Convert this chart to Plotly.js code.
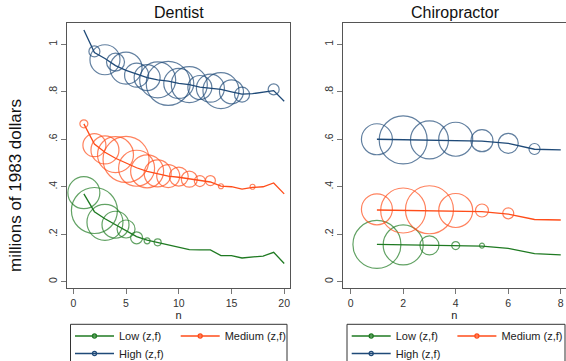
<!DOCTYPE html>
<html>
<head>
<meta charset="utf-8">
<script src="https://cdn.plot.ly/plotly-3.0.1.min.js"></script>
<style>html,body{margin:0;padding:0;background:#fff;}#chart{width:566px;height:361px;}</style>
</head>
<body>
<div id="chart"></div>
<script>
// ---- Data ----
const seriesNames = ['Low (z,f)', 'Medium (z,f)', 'High (z,f)'];
const panelTitles = ['Dentist', 'Chiropractor'];
const yTickVals = [0, 0.2, 0.4, 0.6, 0.8, 1];
const yTickText = ['0', '.2', '.4', '.6', '.8', '1'];
const dentXTicks = [0, 5, 10, 15, 20];
const chiroXTicks = [0, 2, 4, 6, 8];

// Dentist: fitted lines, n = 1..20
const dentN = [1,2,3,4,5,6,7,8,9,10,11,12,13,14,15,16,17,18,19,20];
const dentLowLine  = [0.37,0.295,0.265,0.24,0.215,0.19,0.175,0.165,0.155,0.147,0.135,0.134,0.134,0.11,0.11,0.10,0.105,0.108,0.124,0.077];
const dentMedLine  = [0.665,0.58,0.545,0.52,0.50,0.48,0.465,0.455,0.445,0.44,0.433,0.425,0.42,0.403,0.40,0.39,0.397,0.40,0.416,0.37];
const dentHighLine = [1.06,0.965,0.94,0.91,0.89,0.875,0.86,0.85,0.845,0.835,0.83,0.82,0.815,0.81,0.80,0.79,0.792,0.797,0.805,0.76];

// Dentist: observed points (bubble size = frequency weight)
const dentLowN   = [1,2,3,4,5,6,7,8];
const dentLowY   = [0.375,0.30,0.25,0.24,0.222,0.185,0.172,0.166];
const dentLowW   = [32,46,36,27,18,12,6,7];
const dentMedN   = [1,2,3,4,5,6,7,8,9,10,11,12,13,14,17];
const dentMedY   = [0.665,0.575,0.555,0.535,0.515,0.478,0.465,0.456,0.445,0.443,0.432,0.424,0.426,0.402,0.40];
const dentMedW   = [8,23,28,36,46,36,33,27,23,19,16,11,10,5,5];
const dentHighN  = [2,3,4,5,6,7,8,9,10,11,12,13,14,15,16,19];
const dentHighY  = [0.97,0.935,0.925,0.90,0.87,0.86,0.85,0.835,0.835,0.83,0.818,0.815,0.805,0.80,0.788,0.81];
const dentHighW  = [11,30,18,32,24,26,36,44,30,36,24,28,36,24,15,11];

// Chiropractor: fitted lines, n = 1..8
const chiroN = [1,2,3,4,5,6,7,8];
const chiroLowLine  = [0.157,0.155,0.153,0.152,0.150,0.14,0.118,0.113];
const chiroMedLine  = [0.302,0.30,0.298,0.296,0.295,0.285,0.262,0.26];
const chiroHighLine = [0.60,0.598,0.596,0.594,0.592,0.583,0.558,0.555];

// Chiropractor: observed points
const chiroLowN  = [1,2,3,4,5];
const chiroLowY  = [0.157,0.155,0.153,0.152,0.152];
const chiroLowW  = [48,40,19,8,5];
const chiroMedN  = [1,2,3,4,5,6];
const chiroMedY  = [0.305,0.30,0.303,0.30,0.30,0.288];
const chiroMedW  = [31,45,48,34,13,11];
const chiroHighN = [1,2,3,4,5,6,7];
const chiroHighY = [0.60,0.597,0.597,0.60,0.594,0.583,0.559];
const chiroHighW = [31,48,38,34,22,20,11];

// ---- Styling ----
const colors = ['#1f7a22', '#ff4d1a', '#1f4a78'];
const FONT = 'Liberation Sans, Arial, Helvetica, sans-serif';

function lineTrace(x, y, c, xa, ya) {
  return {x: x, y: y, xaxis: xa, yaxis: ya, mode: 'lines', type: 'scatter',
    line: {color: c, width: 1.3}, showlegend: false, hoverinfo: 'skip'};
}
function bubbleTrace(x, y, w, c, xa, ya) {
  return {x: x, y: y, xaxis: xa, yaxis: ya, mode: 'markers', type: 'scatter',
    marker: {symbol: 'circle-open', size: w, color: c, line: {width: 1.2, color: c}},
    showlegend: false, hoverinfo: 'skip'};
}
function legendTrace(name, c, legend, xa, ya) {
  return {x: [null], y: [null], xaxis: xa, yaxis: ya, name: name, mode: 'lines+markers', type: 'scatter',
    line: {color: c, width: 1.5}, marker: {symbol: 'circle-open', size: 4, color: c, line: {width: 1.3, color: c}},
    legend: legend, showlegend: true};
}

const traces = [
  lineTrace(dentN, dentLowLine, colors[0], 'x', 'y'),
  lineTrace(dentN, dentMedLine, colors[1], 'x', 'y'),
  lineTrace(dentN, dentHighLine, colors[2], 'x', 'y'),
  bubbleTrace(dentLowN, dentLowY, dentLowW, colors[0], 'x', 'y'),
  bubbleTrace(dentMedN, dentMedY, dentMedW, colors[1], 'x', 'y'),
  bubbleTrace(dentHighN, dentHighY, dentHighW, colors[2], 'x', 'y'),
  lineTrace(chiroN, chiroLowLine, colors[0], 'x2', 'y2'),
  lineTrace(chiroN, chiroMedLine, colors[1], 'x2', 'y2'),
  lineTrace(chiroN, chiroHighLine, colors[2], 'x2', 'y2'),
  bubbleTrace(chiroLowN, chiroLowY, chiroLowW, colors[0], 'x2', 'y2'),
  bubbleTrace(chiroMedN, chiroMedY, chiroMedW, colors[1], 'x2', 'y2'),
  bubbleTrace(chiroHighN, chiroHighY, chiroHighW, colors[2], 'x2', 'y2'),
  legendTrace(seriesNames[0], colors[0], 'legend', 'x', 'y'),
  legendTrace(seriesNames[1], colors[1], 'legend2', 'x', 'y'),
  legendTrace(seriesNames[2], colors[2], 'legend3', 'x', 'y'),
  legendTrace(seriesNames[0], colors[0], 'legend4', 'x2', 'y2'),
  legendTrace(seriesNames[1], colors[1], 'legend5', 'x2', 'y2'),
  legendTrace(seriesNames[2], colors[2], 'legend6', 'x2', 'y2')
];

const W = 566, H = 361;
const px = v => v / W;
const py = v => 1 - v / H;

const axisCommon = {
  showgrid: false, zeroline: false, showline: true, mirror: true, automargin: false,
  linecolor: '#555', linewidth: 1, ticks: 'outside', ticklen: 5, tickcolor: '#777', tickwidth: 1,
  tickfont: {family: FONT, size: 10.5, color: '#333'}, fixedrange: true
};
const yDomain = [py(288), py(23)];
const yRange = [-0.0265, 1.0897];

function legendBox(x, y) {
  return {x: x, y: y, xref: 'paper', yref: 'paper', xanchor: 'left', yanchor: 'top',
    orientation: 'h', bgcolor: 'rgba(0,0,0,0)', borderwidth: 0, itemwidth: 39,
    tracegroupgap: 0, font: {family: FONT, size: 11, color: '#222'}};
}

const layout = {
  width: W, height: H, autosize: false,
  margin: {l: 0, r: 0, t: 0, b: 0, pad: 0, autoexpand: false},
  paper_bgcolor: '#fff', plot_bgcolor: '#fff',
  font: {family: FONT, color: '#222'},
  xaxis: Object.assign({}, axisCommon, {domain: [px(67), px(290)], range: [-0.6, 20.55],
    tickvals: dentXTicks, anchor: 'y',
    title: {text: 'n', font: {family: FONT, size: 11, color: '#222'}, standoff: 3}}),
  yaxis: Object.assign({}, axisCommon, {domain: yDomain, range: yRange, anchor: 'x',
    tickvals: yTickVals, ticktext: yTickText, tickangle: -90}),
  xaxis2: Object.assign({}, axisCommon, {domain: [px(343.3), px(565.5)], range: [-0.28, 8.18],
    tickvals: chiroXTicks, anchor: 'y2',
    title: {text: 'n', font: {family: FONT, size: 11, color: '#222'}, standoff: 3}}),
  yaxis2: Object.assign({}, axisCommon, {domain: yDomain, range: yRange, anchor: 'x2',
    tickvals: yTickVals, ticktext: yTickText, tickangle: -90}),
  legend: legendBox(px(70), py(321.5)),
  legend2: legendBox(px(175.7), py(321.5)),
  legend3: legendBox(px(70), py(339)),
  legend4: legendBox(px(346.7), py(321.5)),
  legend5: legendBox(px(452.4), py(321.5)),
  legend6: legendBox(px(346.7), py(339)),
  shapes: [
    {type: 'rect', xref: 'paper', yref: 'paper', x0: px(70.5), x1: px(287), y0: -0.2, y1: py(324.3),
      line: {color: '#333', width: 1}, fillcolor: 'rgba(0,0,0,0)'},
    {type: 'rect', xref: 'paper', yref: 'paper', x0: px(347), x1: px(565), y0: -0.2, y1: py(324.3),
      line: {color: '#333', width: 1}, fillcolor: 'rgba(0,0,0,0)'}
  ],
  annotations: [
    {text: panelTitles[0], xref: 'paper', yref: 'paper', x: px(178.5), y: py(13), xanchor: 'center', yanchor: 'middle',
      showarrow: false, font: {family: FONT, size: 16, color: '#111'}},
    {text: panelTitles[1], xref: 'paper', yref: 'paper', x: px(455), y: py(13), xanchor: 'center', yanchor: 'middle',
      showarrow: false, font: {family: FONT, size: 16, color: '#111'}},
    {text: 'millions of 1983 dollars', xref: 'paper', yref: 'paper', x: px(15), y: py(186), xanchor: 'center', yanchor: 'middle',
      textangle: -90, showarrow: false, font: {family: FONT, size: 17, color: '#111'}}
  ]
};

Plotly.newPlot('chart', traces, layout, {staticPlot: true, displayModeBar: false});
</script>
</body>
</html>
